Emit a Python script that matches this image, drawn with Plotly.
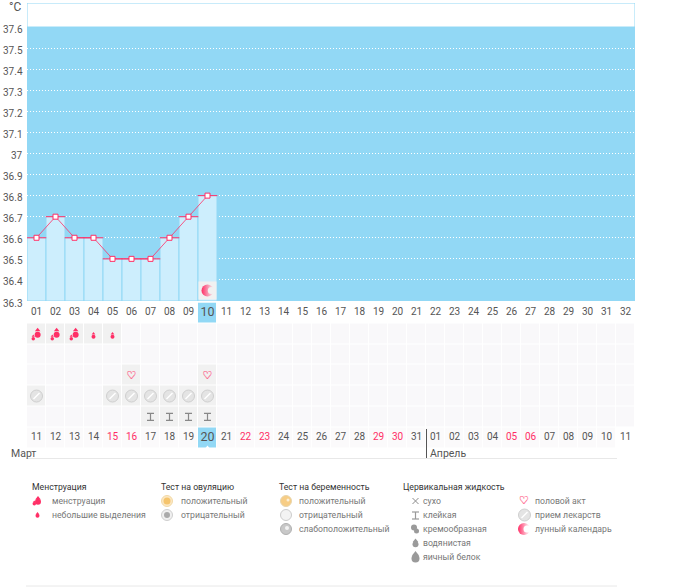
import plotly.graph_objects as go

W, H = 673, 587
FONT = "Roboto"
BLUE = "#92d8f5"
PALE = "#cdeefd"
PINK = "#ff2f66"
GREY = "#9a9a9a"

# ---------- data ----------
days = list(range(32))
top_labels = [f"{i:02d}" for i in range(1, 33)]
bottom_labels = ["11","12","13","14","15","16","17","18","19","20","21","22","23","24","25","26",
                 "27","28","29","30","31","01","02","03","04","05","06","07","08","09","10","11"]
weekend_idx = [4, 5, 11, 12, 18, 19, 25, 26]
temps = [36.6, 36.7, 36.6, 36.6, 36.5, 36.5, 36.5, 36.6, 36.7, 36.8]
y_ticks = [37.6,37.5,37.4,37.3,37.2,37.1,37.0,36.9,36.8,36.7,36.6,36.5,36.4,36.3]
y_labels = ["37.6","37.5","37.4","37.3","37.2","37.1","37","36.9","36.8","36.7","36.6","36.5","36.4","36.3"]
selected_day = 9
mens_heavy = [0, 1, 2]
mens_light = [3, 4]
sex_days = [5, 9]
pill_days = [0, 4, 5, 6, 7, 8, 9]
sticky_days = [6, 7, 8, 9]
moon_day = 9

ROW_MENS, ROW_B, ROW_SEX, ROW_PILL, ROW_FLUID, ROW_TOP, ROW_BOTTOM = 1, 2, 3, 4, 5, 0, 6
y_top, y_bottom = 37.714, 36.3

fig = go.Figure()

# ---------- calendar grid ----------
z = []
for r in range(7):
    row = []
    for d in days:
        if r == ROW_TOP:
            row.append(2 if d == selected_day else None)
        elif r == ROW_BOTTOM:
            row.append(2 if d == selected_day else (None if d == 31 else 3))
        else:
            row.append(0)
    z.append(row)
for r, ds in [(ROW_MENS, mens_heavy + mens_light), (ROW_SEX, sex_days), (ROW_PILL, pill_days), (ROW_FLUID, sticky_days)]:
    for d in ds:
        z[r][d] = 1
fig.add_trace(go.Heatmap(x=days, y=list(range(7)), z=z, xaxis="x", yaxis="y2", showscale=False,
                         zmin=0, zmax=3, xgap=1, ygap=1, hoverinfo="skip",
                         colorscale=[[0, "#f9f8fa"], [0.25, "#f9f8fa"], [0.25, "#f1f1f1"], [0.5, "#f1f1f1"],
                                     [0.5, BLUE], [0.75, BLUE], [0.75, "#fbfafb"], [1, "#fbfafb"]]))

# ---------- temperature ----------
fig.add_trace(go.Bar(x=days[:len(temps)], y=[t - y_bottom for t in temps], base=y_bottom, width=1,
                     marker=dict(color=PALE, line=dict(width=1, color=BLUE)), xaxis="x", yaxis="y", hoverinfo="skip"))
fig.add_trace(go.Scatter(x=days[:len(temps)], y=temps, mode="markers", xaxis="x", yaxis="y", hoverinfo="skip",
                         marker=dict(symbol="line-ew", size=14, line=dict(color=PINK, width=1))))
fig.add_trace(go.Scatter(x=days[:len(temps)], y=temps, mode="lines+markers", xaxis="x", yaxis="y", hoverinfo="skip",
                         line=dict(color=PINK, width=0.8),
                         marker=dict(symbol="square", size=5, color="white", line=dict(color=PINK, width=1))))
# moon cell
fig.add_trace(go.Scatter(x=[moon_day], y=[36.35], mode="markers", xaxis="x", yaxis="y", hoverinfo="skip",
                         marker=dict(symbol="square", size=18, color="#f1f1f1", line=dict(width=0))))
fig.add_trace(go.Scatter(x=[moon_day], y=[36.35], mode="markers", xaxis="x", yaxis="y", hoverinfo="skip",
                         marker=dict(symbol="circle", size=12, color=PINK, line=dict(width=0),
                                     gradient=dict(type="horizontal", color="#f1f1f1"))))
fig.add_trace(go.Scatter(x=[moon_day + 0.2], y=[36.35], mode="markers", xaxis="x", yaxis="y", hoverinfo="skip",
                         marker=dict(symbol="circle", size=7, color="#f1f1f1", line=dict(width=0))))

# ---------- calendar icons ----------
def cal(xs, ys, **m):
    fig.add_trace(go.Scatter(x=xs, y=ys, mode="markers", xaxis="x", yaxis="y2", hoverinfo="skip", marker=m))

def cal_drop(xs, row, s):
    cal(xs, [row + s * 0.012] * len(xs), symbol="circle", size=s, color=PINK, line=dict(width=0))
    cal(xs, [row - s * 0.025] * len(xs), symbol="triangle-up", size=s * 0.8, color=PINK, line=dict(width=0))

cal_drop([d + 0.06 for d in mens_heavy], ROW_MENS - 0.02, 6)
cal_drop([d - 0.17 for d in mens_heavy], ROW_MENS + 0.2, 3.5)
cal_drop(mens_light, ROW_MENS + 0.1, 4)
# pills
cal(pill_days, [ROW_PILL] * len(pill_days), symbol="circle", size=12, color="#e4e4e4", line=dict(color="#cfcfcf", width=1))
cal(pill_days, [ROW_PILL] * len(pill_days), symbol="line-ne", size=6, line=dict(color="#ffffff", width=1.5))
# hearts (double-struck outline glyph)
for dx in (-0.015, 0.015):
    fig.add_trace(go.Scatter(x=[d + dx for d in sex_days], y=[ROW_SEX + 0.05] * 2, mode="text", text=["♡"] * 2,
                             xaxis="x", yaxis="y2", hoverinfo="skip",
                             textfont=dict(family="DejaVu Sans", size=11, color=PINK)))
# sticky fluid
cal(sticky_days, [ROW_FLUID - 0.17] * 4, symbol="line-ew", size=5, line=dict(color="#888888", width=1.2))
cal(sticky_days, [ROW_FLUID + 0.17] * 4, symbol="line-ew", size=5, line=dict(color="#888888", width=1.2))
cal(sticky_days, [ROW_FLUID] * 4, symbol="line-ns", size=5, line=dict(color="#888888", width=1.2))

# ---------- day labels ----------
fig.add_trace(go.Scatter(x=days, y=[ROW_TOP] * 32, mode="text", text=top_labels, xaxis="x", yaxis="y2", hoverinfo="skip",
                         textfont=dict(family=FONT, size=[12.5 if d == selected_day else 10 for d in days], color="#555555")))
fig.add_trace(go.Scatter(x=days, y=[ROW_BOTTOM] * 32, mode="text", text=bottom_labels, xaxis="x", yaxis="y2", hoverinfo="skip",
                         textfont=dict(family=FONT, size=[12.5 if d == selected_day else 10 for d in days],
                                       color=[PINK if d in weekend_idx else "#555555" for d in days])))
cal([selected_day], [ROW_BOTTOM + 0.47], symbol="triangle-up", size=4, color="white", line=dict(width=0))

# ---------- legend ----------
legend_headers = [("Менструация", 32), ("Тест на овуляцию", 161), ("Тест на беременность", 279), ("Цервикальная жидкость", 403)]
legend_rows = [500.5, 514.5, 528.5, 542.5, 556.5]
legend_items = [
    (52, 0, "менструация"), (52, 1, "небольшие выделения"),
    (181, 0, "положительный"), (181, 1, "отрицательный"),
    (299, 0, "положительный"), (299, 1, "отрицательный"), (299, 2, "слабоположительный"),
    (423, 0, "сухо"), (423, 1, "клейкая"), (423, 2, "кремообразная"), (423, 3, "водянистая"), (423, 4, "яичный белок"),
    (535, 0, "половой акт"), (535, 1, "прием лекарств"), (535, 2, "лунный календарь"),
]

def leg(x, y, **m):
    fig.add_trace(go.Scatter(x=[x], y=[y], mode="markers", xaxis="x2", yaxis="y3", hoverinfo="skip", marker=m))

def drop(x, y, s, c):
    leg(x, y + s * 0.2, symbol="circle", size=s, color=c, line=dict(width=0))
    leg(x, y - s * 0.35, symbol="triangle-up", size=s * 0.8, color=c, line=dict(width=0))

drop(38, 500.5, 6, PINK); drop(34.3, 503, 3.5, PINK); drop(37.5, 515, 4, PINK)
leg(167, 501, symbol="circle", size=11, color="#fbe8c4", line=dict(color="#f3d9a6", width=1))
leg(167, 501, symbol="circle", size=7, color="#f5c46c", line=dict(width=0))
leg(167, 515, symbol="circle", size=11, color="#f0f0f0", line=dict(color="#cfcfcf", width=1))
leg(167, 515, symbol="circle", size=6, color="#aaaaaa", line=dict(width=0))
leg(286, 501, symbol="circle", size=11, color="#f7cd85", line=dict(color="#e8d5ad", width=1))
leg(288, 500, symbol="circle", size=3, color="#fbf0d8", line=dict(width=0))
leg(286, 515, symbol="circle", size=11, color="#f3f3f3", line=dict(color="#cccccc", width=1))
leg(286, 529, symbol="circle", size=11, color="#c8c8c8", line=dict(color="#b0b0b0", width=1))
leg(287, 528, symbol="circle", size=4, color="#f3f3f3", line=dict(width=0))
leg(415.5, 501, symbol="x-thin", size=6, line=dict(color="#8c8c8c", width=1))
leg(415.5, 512, symbol="line-ew", size=5, line=dict(color=GREY, width=1.2))
leg(415.5, 519, symbol="line-ew", size=5, line=dict(color=GREY, width=1.2))
leg(415.5, 515.5, symbol="line-ns", size=5, line=dict(color=GREY, width=1.2))
leg(414, 527.5, symbol="circle", size=6, color=GREY, line=dict(width=0))
leg(416.5, 531, symbol="circle", size=5, color=GREY, line=dict(width=0))
drop(415.5, 543, 6, GREY)
drop(415.5, 557, 8, GREY)
for dx in (-0.3, 0.3):
    fig.add_trace(go.Scatter(x=[524 + dx], y=[501], mode="text", text=["♡"], xaxis="x2", yaxis="y3", hoverinfo="skip",
                             textfont=dict(family="DejaVu Sans", size=11, color=PINK)))
leg(524.5, 515, symbol="circle", size=12, color="#e4e4e4", line=dict(color="#cfcfcf", width=1))
leg(524.5, 515, symbol="line-ne", size=6, line=dict(color="white", width=1.5))
leg(524, 529, symbol="circle", size=12, color=PINK, line=dict(width=0), gradient=dict(type="horizontal", color="white"))
leg(527, 529, symbol="circle", size=7, color="white", line=dict(width=0))

# ---------- text ----------
ann = []
def text(x, y, s, size=9, color="#777777", anchor="left"):
    ann.append(dict(text=s, x=x / W, y=1 - y / H, xref="paper", yref="paper", xanchor=anchor, yanchor="middle",
                    showarrow=False, font=dict(family=FONT, size=size, color=color), borderpad=0, borderwidth=0))

for v, s in zip(y_ticks, y_labels):
    ann.append(dict(text=s, x=24.5 / W, y=v, xref="paper", yref="y", xanchor="right", yanchor="middle", yshift=-2,
                    showarrow=False, font=dict(family=FONT, size=10, color="#555555")))
text(21, 7.5, "°C", 12, "#555555", "right")
text(11, 453, "Март", 10.5, "#555555")
text(430, 453, "Апрель", 10.5, "#555555")
for s, x in legend_headers:
    text(x, 486.5, s, 8.7, "#333333")
for x, r, s in legend_items:
    text(x, legend_rows[r], s, 8.7, "#777777")

shapes = [
    dict(type="rect", xref="x", yref="y", x0=-0.5, x1=31.5, y0=36.3, y1=37.6, fillcolor=BLUE, line=dict(width=0), layer="below"),
    dict(type="rect", xref="x", yref="y", x0=-0.5, x1=31.5, y0=37.6, y1=y_top, fillcolor="white",
         line=dict(color=BLUE, width=1), layer="below"),
    dict(type="line", xref="x2", yref="y3", x0=26, x1=617, y0=458.5, y1=458.5, line=dict(color="#e8e8e8", width=1)),
    dict(type="line", xref="x2", yref="y3", x0=26, x1=617, y0=586, y1=586, line=dict(color="#e8e8e8", width=1)),
    dict(type="line", xref="x2", yref="y3", x0=426.5, x1=426.5, y0=429, y1=458, line=dict(color="#555555", width=1)),
]

fig.update_layout(
    width=W, height=H, autosize=False, margin=dict(l=0, r=0, t=0, b=0), showlegend=False,
    paper_bgcolor="white", plot_bgcolor="rgba(0,0,0,0)", barmode="overlay", annotations=ann, shapes=shapes,
    xaxis=dict(domain=[27 / W, 635 / W], range=[-0.5, 31.5], visible=False, fixedrange=True, anchor="y"),
    yaxis=dict(domain=[1 - 301 / H, 1 - 3 / H], range=[y_bottom, y_top], anchor="x", fixedrange=True, zeroline=False,
               showticklabels=False, ticks="", showline=False, tickmode="array", tickvals=y_ticks[1:],
               showgrid=True, gridcolor="white", griddash="1px,2px", gridwidth=1),
    yaxis2=dict(domain=[1 - 448 / H, 1 - 302.5 / H], range=[6.5, -0.5], anchor="x", visible=False, fixedrange=True),
    xaxis2=dict(domain=[0, 1], range=[0, W], visible=False, fixedrange=True, anchor="y3"),
    yaxis3=dict(domain=[0, 1], range=[H, 0], visible=False, fixedrange=True, anchor="x2"),
)

fig.write_html("out.html", post_script="document.body.style.margin='0';", config={"displayModeBar": False})
